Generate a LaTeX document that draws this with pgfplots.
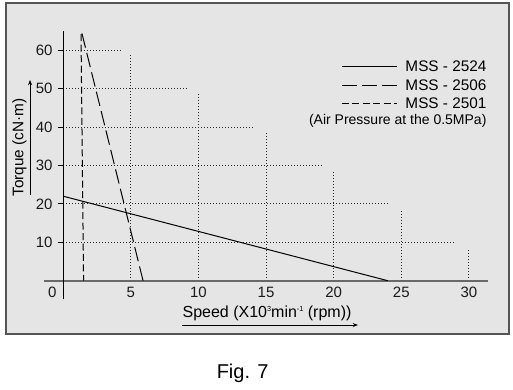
\documentclass[border=0pt]{standalone}
\usepackage{fontspec}
\setmainfont{Liberation Sans}
\usepackage{pgfplots}
\pgfplotsset{compat=1.18}
\usetikzlibrary{arrows.meta}
\definecolor{bg}{RGB}{229,229,229}
\definecolor{framec}{RGB}{85,85,85}
\definecolor{axg}{RGB}{105,105,105}
\definecolor{txt}{RGB}{25,25,25}
\definecolor{gridc}{RGB}{40,40,40}
\begin{document}
\begin{tikzpicture}
\begin{axis}[
  scale only axis, width=377.25pt, height=247.875pt,
  xmin=-4.238, xmax=32.97, ymin=-13.88, ymax=72.19,
  axis background/.style={fill=bg},
  axis line style={draw=framec, line width=1.5pt},
  xtick=\empty, ytick=\empty, clip=false,
  every node/.style={text=txt},
]
% grid (staircase dotted)
\draw[gridc, line width=0.7pt, dash pattern=on 0.75pt off 1.5pt] (0,60) -- (4.3,60);
\draw[gridc, line width=0.7pt, dash pattern=on 0.75pt off 1.5pt] (0,50) -- (9.3,50);
\draw[gridc, line width=0.7pt, dash pattern=on 0.75pt off 1.5pt] (0,40) -- (14.1,40);
\draw[gridc, line width=0.7pt, dash pattern=on 0.75pt off 1.5pt] (0,30) -- (19.1,30);
\draw[gridc, line width=0.7pt, dash pattern=on 0.75pt off 1.5pt] (0,20) -- (24.1,20);
\draw[gridc, line width=0.7pt, dash pattern=on 0.75pt off 1.5pt] (0,10) -- (28.9,10);
\draw[gridc, line width=0.7pt, dash pattern=on 0.75pt off 1.5pt] (5,0) -- (5,59.2);
\draw[gridc, line width=0.7pt, dash pattern=on 0.75pt off 1.5pt] (10,0) -- (10,48.8);
\draw[gridc, line width=0.7pt, dash pattern=on 0.75pt off 1.5pt] (15,0) -- (15,39.0);
\draw[gridc, line width=0.7pt, dash pattern=on 0.75pt off 1.5pt] (20,0) -- (20,28.7);
\draw[gridc, line width=0.7pt, dash pattern=on 0.75pt off 1.5pt] (25,0) -- (25,18.2);
\draw[gridc, line width=0.7pt, dash pattern=on 0.75pt off 1.5pt] (30,0) -- (30,8.2);
% axes
\draw[axg, line width=1.2pt] (-1.4,0) -- (31.39,0);
\draw[black, line width=0.8pt] (0,-4.84) -- (0,65.1);
% y ticks
\draw[black, line width=0.8pt] (-0.4,10) -- (0,10);
\draw[black, line width=0.8pt] (-0.4,20) -- (0,20);
\draw[black, line width=0.8pt] (-0.4,30) -- (0,30);
\draw[black, line width=0.8pt] (-0.4,40) -- (0,40);
\draw[black, line width=0.8pt] (-0.4,50) -- (0,50);
\draw[black, line width=0.8pt] (-0.4,60) -- (0,60);
% tick labels
\begin{scope}[every node/.style={font=\fontsize{11.25}{13}\selectfont, text=txt}]
\node[anchor=east] at (-0.45,10) {10};
\node[anchor=east] at (-0.45,20) {20};
\node[anchor=east] at (-0.45,30) {30};
\node[anchor=east] at (-0.45,40) {40};
\node[anchor=east] at (-0.45,50) {50};
\node[anchor=east] at (-0.45,60) {60};
\node at (-0.81,-3.1) {0};
\node at (5,-3.1) {5};
\node at (10,-3.1) {10};
\node at (15,-3.1) {15};
\node at (20,-3.1) {20};
\node at (25,-3.1) {25};
\node at (30,-3.1) {30};
\end{scope}
% data
\addplot[black, line width=0.75pt] coordinates {(0,22) (24,0)};
\addplot[black, line width=0.75pt, dash pattern=on 11pt off 4pt] coordinates {(1.38,64.4) (5.9,0)};
\addplot[black, line width=0.75pt, dash pattern=on 5.25pt off 2.6pt] coordinates {(1.31,64.2) (1.5,0)};
% legend
\draw[black, line width=0.75pt] (20.61,55.9) -- (24.68,55.9);
\draw[black, line width=0.75pt, dash pattern=on 11pt off 4pt] (20.61,50.96) -- (24.68,50.96);
\draw[black, line width=0.75pt, dash pattern=on 5.25pt off 2.6pt] (20.61,46.15) -- (24.68,46.15);
\node[anchor=east, font=\fontsize{11.5}{13}\selectfont] at (31.65,55.9) {MSS - 2524};
\node[anchor=east, font=\fontsize{11.5}{13}\selectfont] at (31.65,50.96) {MSS - 2506};
\node[anchor=east, font=\fontsize{11.5}{13}\selectfont] at (31.65,46.15) {MSS - 2501};
\node[anchor=east, font=\fontsize{10.5}{12}\selectfont] at (31.65,41.6) {(Air Pressure at the 0.5MPa)};
% axis labels
\node[rotate=90, font=\fontsize{11.5}{13}\selectfont] at (-3.24,34.7) {Torque (cN·m)};
\draw[black, line width=0.6pt, -{Stealth[length=4pt,width=3pt]}] (-2.46,22.3) -- (-2.46,52.3);
\node[font=\fontsize{12}{14}\selectfont] at (15.07,-8.5) {Speed (X10\raisebox{0.75ex}{\fontsize{5.5}{6}\selectfont 3}min\raisebox{0.75ex}{\fontsize{5.5}{6}\selectfont -1} (rpm))};
\draw[black, line width=0.6pt, -{Stealth[length=4pt,width=3pt]}] (8.78,-11.54) -- (21.8,-11.54);
\node[font=\fontsize{15}{17}\selectfont] at (13.27,-24.1) {Fig. 7};
\end{axis}
\pgfresetboundingbox
\path ([shift={(-4.5pt,-41.25pt)}]current axis.south west) rectangle ([shift={(3pt,2.625pt)}]current axis.north east);
\end{tikzpicture}
\end{document}
